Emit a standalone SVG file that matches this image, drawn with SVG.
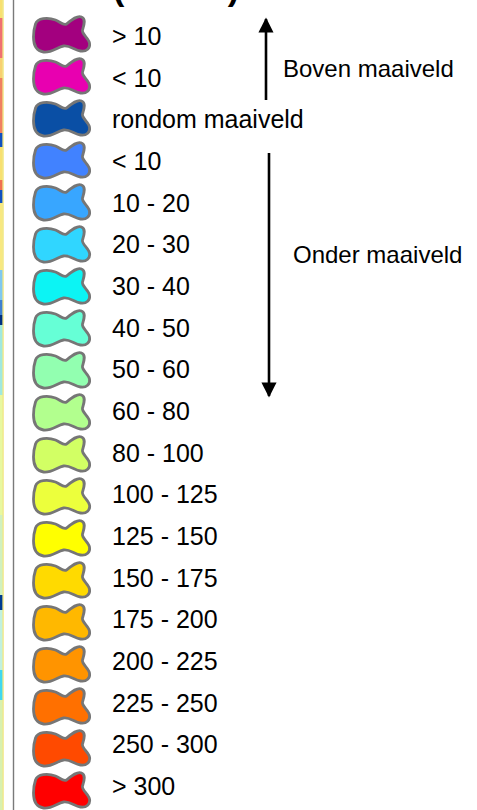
<svg xmlns="http://www.w3.org/2000/svg" width="477" height="810" viewBox="0 0 477 810">
<defs>
<style>
.lbl{font-family:"Liberation Sans",Arial,sans-serif;font-size:25px;fill:#000}
.side{font-family:"Liberation Sans",Arial,sans-serif;font-size:24px;fill:#000}
.sw{stroke:#767676;stroke-width:2.8;stroke-linejoin:round}
.arr{stroke:#000;stroke-width:2.6;fill:none}
</style>
<path id="blob" d="M2,8 C4,2 14,1 22,4 C27,6 30,10 33,8 C38,4 44,-1 48,1 C53,3 50,10 49,14 C48,18 55,22 56,27 C57,32 53,36 47,35 C41,34 36,29 30,30 C24,31 18,37 10,36 C3,35 0,29 0,21 C0,15 1,11 2,8 Z"/>
<marker id="ah" viewBox="0 0 10 10" refX="9" refY="5" markerWidth="5.8" markerHeight="6.2" orient="auto" markerUnits="strokeWidth">
<path d="M0,0 L10,5 L0,10 Z" fill="#000"/>
</marker>
</defs>
<rect x="0" y="0" width="477" height="810" fill="#fff"/>
<g id="mapstrip">
<rect x="0" y="0" width="2.6" height="810" fill="#d8f0c0"/>
<rect x="0" y="0" width="2.6" height="18" fill="#f8e070"/>
<rect x="0" y="18" width="2.6" height="40" fill="#f07070"/>
<rect x="0" y="58" width="2.6" height="20" fill="#f8d070"/>
<rect x="0" y="78" width="2.6" height="55" fill="#f08060"/>
<rect x="0" y="133" width="2.6" height="14" fill="#1050c0"/>
<rect x="0" y="147" width="2.6" height="33" fill="#f8e070"/>
<rect x="0" y="180" width="2.6" height="10" fill="#f07050"/>
<rect x="0" y="190" width="2.6" height="13" fill="#1050c0"/>
<rect x="0" y="203" width="2.6" height="67" fill="#f8e880"/>
<rect x="0" y="270" width="2.6" height="30" fill="#80c8f0"/>
<rect x="0" y="300" width="2.6" height="15" fill="#4080d0"/>
<rect x="0" y="315" width="2.6" height="10" fill="#003080"/>
<rect x="0" y="325" width="2.6" height="70" fill="#a0e8e0"/>
<rect x="0" y="395" width="2.6" height="120" fill="#e8f8a0"/>
<rect x="0" y="515" width="2.6" height="80" fill="#d0f0c0"/>
<rect x="0" y="595" width="2.6" height="15" fill="#003c90"/>
<rect x="0" y="610" width="2.6" height="60" fill="#c0f0e0"/>
<rect x="0" y="670" width="2.6" height="30" fill="#40d8f0"/>
<rect x="0" y="700" width="2.6" height="110" fill="#d8f0b0"/>
<rect x="2.6" y="0" width="1" height="810" fill="#f0e060"/>
</g>
<rect id="frame" x="12.8" y="0" width="1.4" height="810" fill="#7a7a7a"/>
<g id="title"><text x="113" y="-0.5" font-family="'Liberation Sans',Arial,sans-serif" font-size="34" font-weight="bold" textLength="126" lengthAdjust="spacing">(cm-mv)</text></g>
<g id="swatches" class="sw">
<use href="#blob" x="33.5" y="16" fill="#a3007f"/>
<use href="#blob" x="33.5" y="58" fill="#e800b0"/>
<use href="#blob" x="33.5" y="100" fill="#0a4fa5"/>
<use href="#blob" x="33.5" y="142" fill="#4182ff"/>
<use href="#blob" x="33.5" y="184" fill="#38a6ff"/>
<use href="#blob" x="33.5" y="226" fill="#30d6ff"/>
<use href="#blob" x="33.5" y="268" fill="#0cf4f4"/>
<use href="#blob" x="33.5" y="310" fill="#66ffd6"/>
<use href="#blob" x="33.5" y="352" fill="#92ffb0"/>
<use href="#blob" x="33.5" y="394" fill="#b2ff8e"/>
<use href="#blob" x="33.5" y="436" fill="#d2ff64"/>
<use href="#blob" x="33.5" y="478" fill="#ecff3c"/>
<use href="#blob" x="33.5" y="520" fill="#ffff00"/>
<use href="#blob" x="33.5" y="562" fill="#ffda00"/>
<use href="#blob" x="33.5" y="604" fill="#ffb800"/>
<use href="#blob" x="33.5" y="646" fill="#ff9400"/>
<use href="#blob" x="33.5" y="688" fill="#ff7000"/>
<use href="#blob" x="33.5" y="730" fill="#ff4a00"/>
<use href="#blob" x="33.5" y="772" fill="#ff0000"/>
</g>
<g id="labels" class="lbl">
<text x="112" y="45">&gt; 10</text>
<text x="112" y="86.7">&lt; 10</text>
<text x="112" y="128.3">rondom maaiveld</text>
<text x="112" y="170">&lt; 10</text>
<text x="112" y="211.7">10 - 20</text>
<text x="112" y="253.3">20 - 30</text>
<text x="112" y="295">30 - 40</text>
<text x="112" y="336.7">40 - 50</text>
<text x="112" y="378.3">50 - 60</text>
<text x="112" y="420">60 - 80</text>
<text x="112" y="461.7">80 - 100</text>
<text x="112" y="503.3">100 - 125</text>
<text x="112" y="545">125 - 150</text>
<text x="112" y="586.7">150 - 175</text>
<text x="112" y="628.3">175 - 200</text>
<text x="112" y="670">200 - 225</text>
<text x="112" y="711.7">225 - 250</text>
<text x="112" y="753.3">250 - 300</text>
<text x="112" y="795">&gt; 300</text>
</g>
<g id="connectors">
<line class="arr" x1="266" y1="100" x2="266" y2="19" marker-end="url(#ah)"/>
<line class="arr" x1="269" y1="153" x2="269" y2="396" marker-end="url(#ah)"/>
</g>
<g id="side-labels" class="side">
<text x="283" y="77.3">Boven maaiveld</text>
<text x="293" y="263.3">Onder maaiveld</text>
</g>
</svg>
